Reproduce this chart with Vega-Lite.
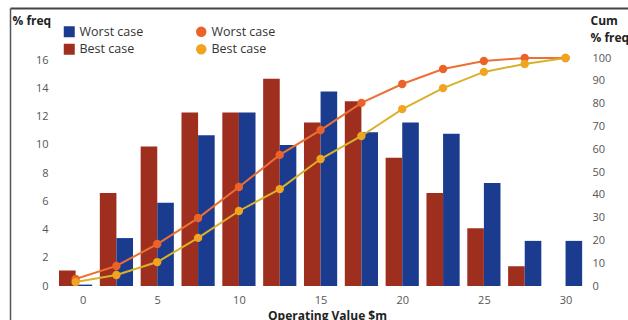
{
  "$schema": "https://vega.github.io/schema/vega-lite/v6.json",
  "width": 618,
  "height": 312,
  "autosize": {"type": "none"},
  "padding": {"left": 10, "top": 8, "right": 0, "bottom": 0},
  "background": "#ffffff",
  "config": {
    "view": {"stroke": null},
    "font": "Open Sans",
    "axis": {
      "labelFont": "Open Sans",
      "labelFontSize": 11,
      "labelColor": "#555555",
      "titleFont": "Open Sans",
      "titleFontWeight": "bold",
      "titleFontSize": 12,
      "titleColor": "#222222",
      "grid": false,
      "ticks": false,
      "tickSize": 0
    },
    "legend": {
      "labelFont": "Open Sans",
      "labelFontSize": 12.5,
      "labelColor": "#333333",
      "padding": 0,
      "rowPadding": 4.5,
      "labelOffset": 4
    }
  },
  "datasets": {
    "freq": [
      {"value": 0, "case": "Best case", "freq": 1.1},
      {"value": 2.5, "case": "Best case", "freq": 6.6},
      {"value": 5, "case": "Best case", "freq": 9.9},
      {"value": 7.5, "case": "Best case", "freq": 12.3},
      {"value": 10, "case": "Best case", "freq": 12.3},
      {"value": 12.5, "case": "Best case", "freq": 14.7},
      {"value": 15, "case": "Best case", "freq": 11.6},
      {"value": 17.5, "case": "Best case", "freq": 13.1},
      {"value": 20, "case": "Best case", "freq": 9.1},
      {"value": 22.5, "case": "Best case", "freq": 6.6},
      {"value": 25, "case": "Best case", "freq": 4.1},
      {"value": 27.5, "case": "Best case", "freq": 1.4},
      {"value": 30, "case": "Best case", "freq": 0},
      {"value": 0, "case": "Worst case", "freq": 0.1},
      {"value": 2.5, "case": "Worst case", "freq": 3.4},
      {"value": 5, "case": "Worst case", "freq": 5.9},
      {"value": 7.5, "case": "Worst case", "freq": 10.7},
      {"value": 10, "case": "Worst case", "freq": 12.3},
      {"value": 12.5, "case": "Worst case", "freq": 10.0},
      {"value": 15, "case": "Worst case", "freq": 13.8},
      {"value": 17.5, "case": "Worst case", "freq": 10.9},
      {"value": 20, "case": "Worst case", "freq": 11.6},
      {"value": 22.5, "case": "Worst case", "freq": 10.8},
      {"value": 25, "case": "Worst case", "freq": 7.3},
      {"value": 27.5, "case": "Worst case", "freq": 3.2},
      {"value": 30, "case": "Worst case", "freq": 3.2}
    ],
    "cumulative": [
      {"value": 0, "curve": "Worst case", "cum": 3.1},
      {"value": 2.5, "curve": "Worst case", "cum": 8.8},
      {"value": 5, "curve": "Worst case", "cum": 18.4},
      {"value": 7.5, "curve": "Worst case", "cum": 29.8},
      {"value": 10, "curve": "Worst case", "cum": 43.4},
      {"value": 12.5, "curve": "Worst case", "cum": 57.5},
      {"value": 15, "curve": "Worst case", "cum": 68.4},
      {"value": 17.5, "curve": "Worst case", "cum": 80.3},
      {"value": 20, "curve": "Worst case", "cum": 88.6},
      {"value": 22.5, "curve": "Worst case", "cum": 95.2},
      {"value": 25, "curve": "Worst case", "cum": 98.7},
      {"value": 27.5, "curve": "Worst case", "cum": 100},
      {"value": 30, "curve": "Worst case", "cum": 100},
      {"value": 0, "curve": "Best case", "cum": 1.75},
      {"value": 2.5, "curve": "Best case", "cum": 4.8},
      {"value": 5, "curve": "Best case", "cum": 10.5},
      {"value": 7.5, "curve": "Best case", "cum": 21.1},
      {"value": 10, "curve": "Best case", "cum": 32.9},
      {"value": 12.5, "curve": "Best case", "cum": 42.5},
      {"value": 15, "curve": "Best case", "cum": 55.7},
      {"value": 17.5, "curve": "Best case", "cum": 65.8},
      {"value": 20, "curve": "Best case", "cum": 77.6},
      {"value": 22.5, "curve": "Best case", "cum": 86.8},
      {"value": 25, "curve": "Best case", "cum": 93.9},
      {"value": 27.5, "curve": "Best case", "cum": 97.4},
      {"value": 30, "curve": "Best case", "cum": 100}
    ]
  },
  "layer": [
    {
      "data": {"name": "freq"},
      "encoding": {
        "x": {
          "field": "value",
          "type": "quantitative",
          "scale": {"domain": [-3.711, 33.518], "nice": false, "zero": false},
          "axis": {
            "orient": "bottom",
            "offset": -34,
            "domain": false,
            "values": [0, 5, 10, 15, 20, 25, 30],
            "labelPadding": 8,
            "labelOffset": {"condition": {"test": "datum.value === 0", "value": 7}, "value": 0},
            "title": "Operating Value $m",
            "titleX": 317,
            "titleY": 24,
            "titleAlign": "center",
            "titleBaseline": "top",
            "titleFontSize": 12
          }
        },
        "y": {
          "field": "freq",
          "type": "quantitative",
          "scale": {"domain": [-2.411, 19.716], "nice": false, "zero": false},
          "axis": {
            "orient": "left",
            "domain": true,
            "domainColor": "#555555",
            "domainWidth": 1.5,
            "values": [0, 2, 4, 6, 8, 10, 12, 14, 16],
            "labelPadding": -38,
            "labelAlign": "right",
            "title": "% freq",
            "titleAngle": 0,
            "titleAlign": "left",
            "titleBaseline": "middle",
            "titleX": 2,
            "titleY": 12
          }
        }
      },
      "layer": [
        {
          "transform": [{"filter": "datum.case === 'Best case'"}],
          "mark": {"type": "bar", "size": 16.6, "xOffset": -8.3},
          "encoding": {
            "fill": {
              "field": "case",
              "type": "nominal",
              "scale": {"domain": ["Worst case", "Best case"], "range": ["#1b3c8e", "#9e2f1f"]},
              "legend": {
                "title": null,
                "orient": "none",
                "legendX": 53,
                "legendY": 17.5,
                "symbolType": "square",
                "symbolSize": 121,
                "symbolStrokeWidth": 0
              }
            }
          }
        },
        {
          "transform": [{"filter": "datum.case === 'Worst case'"}],
          "mark": {"type": "bar", "size": 16.6, "xOffset": 8.3},
          "encoding": {
            "fill": {"field": "case", "type": "nominal"}
          }
        },
        {
          "data": {"values": [{"edge": -1}, {"edge": 31}]},
          "mark": {"type": "rule", "color": "#7a7a7a", "strokeWidth": 1},
          "encoding": {
            "x": {"field": "edge", "type": "quantitative"},
            "y": {"datum": 0},
            "y2": {"datum": 19.716}
          }
        },
        {
          "data": {"values": [{"level": 0}]},
          "mark": {"type": "rule", "color": "#7a7a7a", "strokeWidth": 1},
          "encoding": {
            "x": {"datum": -1},
            "x2": {"datum": 31},
            "y": {"field": "level", "type": "quantitative"}
          }
        }
      ]
    },
    {
      "data": {"name": "cumulative"},
      "encoding": {
        "x": {
          "field": "value",
          "type": "quantitative",
          "axis": {
            "orient": "top",
            "labels": false,
            "domain": true,
            "domainColor": "#444444",
            "domainWidth": 2,
            "title": null
          }
        },
        "y": {
          "field": "cum",
          "type": "quantitative",
          "scale": {"domain": [-14.912, 121.93], "nice": false, "zero": false},
          "axis": {
            "orient": "right",
            "offset": -42,
            "domain": false,
            "values": [0, 10, 20, 30, 40, 50, 60, 70, 80, 90, 100],
            "labelPadding": 6,
            "labelAlign": "left",
            "title": ["Cum", "% freq"],
            "titleAngle": 0,
            "titleAlign": "left",
            "titleBaseline": "middle",
            "titleLineHeight": 17,
            "titleX": 4,
            "titleY": 12
          }
        }
      },
      "layer": [
        {
          "mark": {"type": "line", "strokeWidth": 2},
          "encoding": {
            "stroke": {
              "field": "curve",
              "type": "nominal",
              "scale": {"domain": ["Worst case", "Best case"], "range": ["#ee6f34", "#d9b22c"]},
              "legend": null
            }
          }
        },
        {
          "mark": {"type": "point", "filled": true, "size": 70, "opacity": 1},
          "encoding": {
            "color": {
              "field": "curve",
              "type": "nominal",
              "scale": {"domain": ["Best case", "Worst case"], "range": ["#f0a41f", "#eb6329"]},
              "legend": {
                "title": null,
                "orient": "none",
                "legendX": 185,
                "legendY": 17.5,
                "values": ["Worst case", "Best case"],
                "symbolType": "circle",
                "symbolSize": 110
              }
            }
          }
        }
      ]
    }
  ],
  "resolve": {
    "scale": {"y": "independent"},
    "axis": {"x": "independent"}
  }
}
